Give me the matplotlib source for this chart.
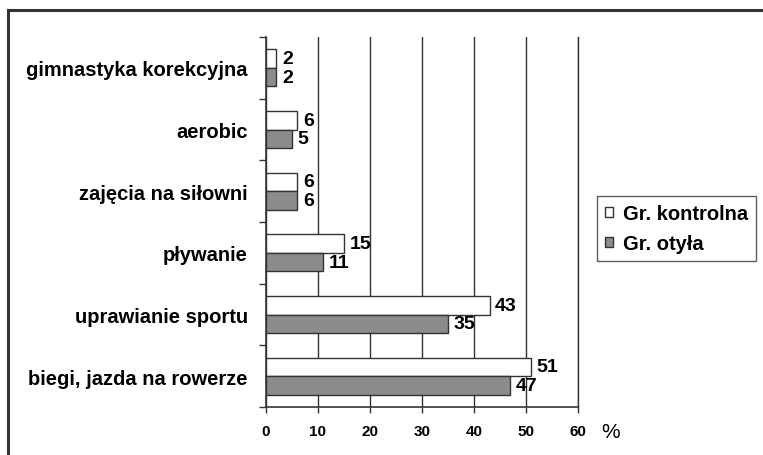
import matplotlib
matplotlib.use('agg')
import matplotlib.pyplot as plt
import numpy as np
from matplotlib.patches import Rectangle

plt.rcParams['font.family'] = ['Liberation Sans', 'DejaVu Sans']

# data (bottom to top)
categories = ["biegi, jazda na rowerze", "uprawianie sportu", "pływanie",
              "zajęcia na siłowni", "aerobic", "gimnastyka korekcyjna"]
kontrolna = [51, 43, 15, 6, 6, 2]
otyla = [47, 35, 11, 6, 5, 2]
x_ticks = [0, 10, 20, 30, 40, 50, 60]

fig = plt.figure(figsize=(7.63, 4.56), dpi=100)
ax = fig.add_axes([266 / 763, 1 - 408 / 456, 312 / 763, 370 / 456])

y = np.arange(len(categories))
h = 0.30
b1 = ax.barh(y + h / 2, kontrolna, height=h, color='white', edgecolor='#333333',
             linewidth=1.0, label='Gr. kontrolna', zorder=3)
b2 = ax.barh(y - h / 2, otyla, height=h, color='#8c8c8c', edgecolor='#333333',
             linewidth=1.0, label='Gr. otyła', zorder=3)

for bars, vals in [(b1, kontrolna), (b2, otyla)]:
    for bar, v in zip(bars, vals):
        ax.annotate(str(v), (bar.get_width(), bar.get_y() + bar.get_height() / 2),
                    xytext=(4, 0), textcoords='offset points', va='center', ha='left',
                    fontsize=14, fontweight='bold')

ax.set_xlim(0, 60)
ax.set_ylim(-0.5, len(categories) - 0.5)
ax.set_xticks(x_ticks)
ax.set_xticklabels([str(t) for t in x_ticks], fontsize=11, fontweight='bold')
ax.xaxis.grid(True, color='#333333', linewidth=1.0, zorder=0)
ax.set_axisbelow(True)

ax.set_yticks(y)
ax.set_yticklabels(categories, fontsize=14.5, fontweight='bold')
ax.tick_params(axis='y', length=0, pad=13)
ax.set_yticks(np.arange(-0.5, len(categories)), minor=True)
ax.tick_params(axis='y', which='minor', length=5, width=1, color='#333333')
ax.tick_params(axis='x', length=4, width=1, color='#333333', pad=8)

ax.spines['top'].set_visible(False)
for s in ['left', 'bottom', 'right']:
    ax.spines[s].set_color('#333333')
    ax.spines[s].set_linewidth(1.2)
ax.spines['right'].set_linewidth(1.0)

fig.text(611 / 763, 1 - 433 / 456, '%', fontsize=15, ha='center', va='center')

leg = fig.legend(loc='upper left', bbox_to_anchor=(597 / 763, 1 - 197 / 456),
                 prop={'weight': 'bold', 'size': 14.5}, frameon=True,
                 fancybox=False, edgecolor='#333333', handlelength=0.4, handleheight=0.4,
                 handletextpad=0.5, borderpad=0.4, labelspacing=0.55, borderaxespad=0)
leg.get_frame().set_linewidth(1.0)

# outer frame (cut off at right/bottom edge)
fig.patches.append(Rectangle((8 / 763, -0.1), 1.2, 1 - 11 / 456 + 0.1, transform=fig.transFigure,
                             fill=False, edgecolor='#333333', linewidth=2.2))

fig.savefig('out.png', dpi=100)
